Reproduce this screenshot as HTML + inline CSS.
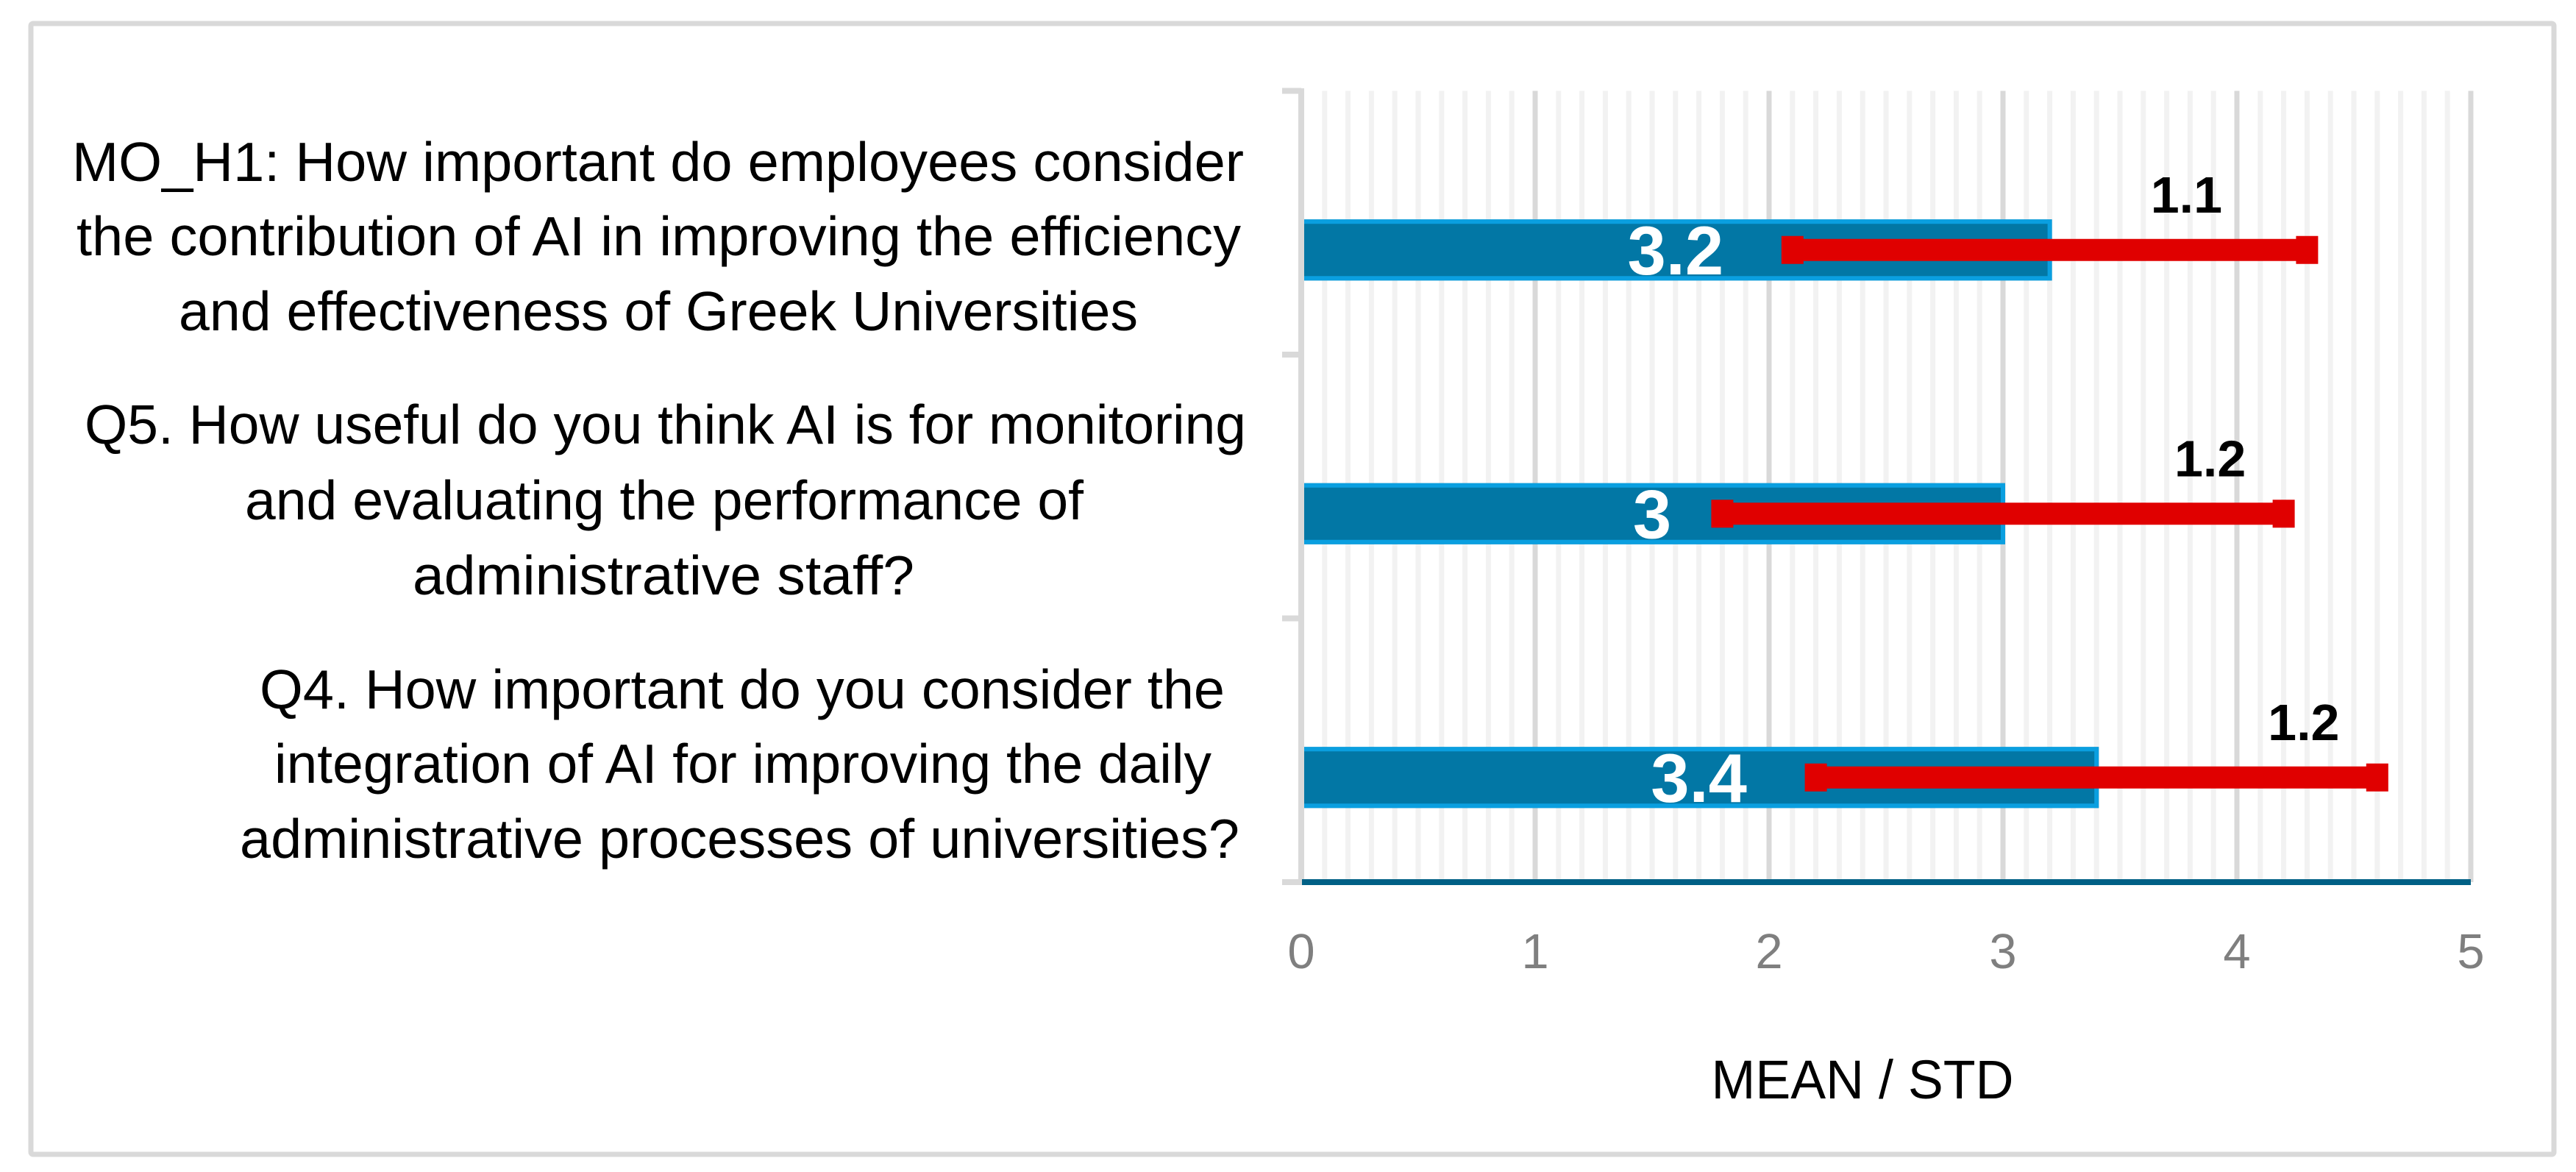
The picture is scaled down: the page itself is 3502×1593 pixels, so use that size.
<!DOCTYPE html>
<html lang="en">
<head>
<meta charset="utf-8">
<title>Mean and standard deviation chart</title>
<style>
html,body{margin:0;padding:0;background:#fff;width:3502px;height:1593px;overflow:hidden}
svg{display:block}
text{font-family:"Liberation Sans",sans-serif}
</style>
</head>
<body>
<svg id="chart" xmlns="http://www.w3.org/2000/svg" width="3502" height="1593" viewBox="0 0 3502 1593">
  <rect x="0" y="0" width="3502" height="1593" fill="#ffffff"/>
  <rect x="42" y="32" width="3430" height="1537" rx="3" fill="#ffffff" stroke="#d9d9d9" stroke-width="7"/>
  <text x="2532" y="1493" font-size="74" fill="#000000" text-anchor="middle" textLength="411" lengthAdjust="spacingAndGlyphs">MEAN / STD</text>
</svg>
<script>
// ---- chart data ----
const categoryLines = [
  ["MO_H1: How important do employees consider", "the contribution of AI in improving the efficiency", "and effectiveness of Greek Universities"],
  ["Q5. How useful do you think AI is for monitoring", "and evaluating the performance of", "administrative staff?"],
  ["Q4. How important do you consider the", "integration of AI for improving the daily", "administrative processes of universities?"]
];
const meanValues = [3.2, 3.0, 3.4];
const stdValues = [1.1, 1.2, 1.2];
const meanLabels = ["3.2", "3", "3.4"];
const stdLabels = ["1.1", "1.2", "1.2"];
const xTickLabels = ["0", "1", "2", "3", "4", "5"];
const xTickValues = [0, 1, 2, 3, 4, 5];

// ---- layout (not data) ----
const plot = { left: 1769, right: 3359, top: 123.5, bottom: 1199, xMin: 0, xMax: 5 };
const barOffset = 37;
const lineBoxes = [
  [[98, 1691], [104, 1687], [243, 1547]],
  [[115, 1694], [333, 1473], [561, 1243]],
  [[353, 1665], [373, 1647], [326, 1685]]
];
const lineBaselines = [[246, 347, 449], [603, 706, 808], [963, 1064, 1166]];
const stdLabelOffsets = [-164, -100, -100];

const svg = document.getElementById('chart');
const NS = 'http://www.w3.org/2000/svg';
function x(v) { return plot.left + (v - plot.xMin) / (plot.xMax - plot.xMin) * (plot.right - plot.left); }
function bandHeight() { return (plot.bottom - plot.top) / categoryLines.length; }
function y(i) { return plot.top + bandHeight() * (i + 0.5) + barOffset; }
function make(tag, attrs, text) {
  const el = document.createElementNS(NS, tag);
  for (const k in attrs) el.setAttribute(k, attrs[k]);
  if (text !== undefined) el.textContent = text;
  svg.appendChild(el);
  return el;
}

// minor gridlines
for (let k = 1; k < 50; k++) {
  if (k % 10 === 0) continue;
  const g = make('line', { x1: x(k / 10), x2: x(k / 10), y1: plot.top, y2: plot.bottom, stroke: '#f2f2f2', 'stroke-width': 7 });
  
  
}
// major gridlines
xTickValues.forEach(function (v) {
  if (v === 0) return;
  const g = make('line', { x1: x(v), x2: x(v), y1: plot.top, y2: plot.bottom, stroke: '#d9d9d9', 'stroke-width': 7 });
  
  
});
// y axis line
const yAxis = make('line', { x1: plot.left, x2: plot.left, y1: plot.top - 3.5, y2: plot.bottom + 4, stroke: '#d9d9d9', 'stroke-width': 8 });


// y axis tick marks
for (let i = 0; i <= categoryLines.length; i++) {
  const ty = plot.top + bandHeight() * i;
  const t = make('line', { x1: plot.left - 26, x2: plot.left, y1: ty, y2: ty, stroke: '#d9d9d9', 'stroke-width': 8 });
  
  
}
// x axis line
const xAxis = make('line', { x1: plot.left + 1, x2: plot.right, y1: plot.bottom, y2: plot.bottom, stroke: '#006085', 'stroke-width': 8 });


// x tick labels
xTickValues.forEach(function (v, i) {
  const t = make('text', { x: x(v), y: 1316, 'font-size': 67, fill: '#7f7f7f', 'text-anchor': 'middle' }, xTickLabels[i]);
  
  
});
// category labels
categoryLines.forEach(function (lines, i) {
  lines.forEach(function (line, j) {
    const box = lineBoxes[i][j];
    const t = make('text', { x: box[0], y: lineBaselines[i][j], 'font-size': 75, fill: '#000000', textLength: box[1] - box[0], lengthAdjust: 'spacingAndGlyphs' }, line);
    
    
  });
});
// bars: fill plus top/right/bottom edge (no edge against the axis)
meanValues.forEach(function (m, i) {
  const bar = make('rect', { x: plot.left + 4, y: y(i) - 41.5, width: x(m) + 3 - plot.left - 4, height: 83, fill: '#0277a5' });
  
  
  const edge = make('path', { d: 'M' + (plot.left + 4) + ' ' + (y(i) - 38.5) + 'H' + x(m) + 'V' + (y(i) + 38.5) + 'H' + (plot.left + 4), fill: 'none', stroke: '#0a9fe0', 'stroke-width': 6 });
  
  
});
// error bars
meanValues.forEach(function (m, i) {
  const lo = m - stdValues[i];
  const hi = m + stdValues[i];
  const line = make('rect', { x: x(lo), y: y(i) - 15, width: x(hi) - x(lo), height: 30, fill: '#e00000' });
  
  
  const capL = make('rect', { x: x(lo) - 15, y: y(i) - 19, width: 30, height: 38, fill: '#e00000' });
  
  
  const capH = make('rect', { x: x(hi) - 15, y: y(i) - 19, width: 30, height: 38, fill: '#e00000' });
  
  
});
// mean labels
meanValues.forEach(function (m, i) {
  const t = make('text', { x: (x(0) + x(m)) / 2, y: y(i) + 33, 'font-size': 94, 'font-weight': 'bold', fill: '#ffffff', 'text-anchor': 'middle' }, meanLabels[i]);
  
  
});
// std labels
stdValues.forEach(function (s, i) {
  const t = make('text', { x: x(meanValues[i] + s) + stdLabelOffsets[i], y: y(i) - 51, 'font-size': 70, 'font-weight': 'bold', fill: '#000000', 'text-anchor': 'middle' }, stdLabels[i]);
  
  
});
</script>
</body>
</html>
